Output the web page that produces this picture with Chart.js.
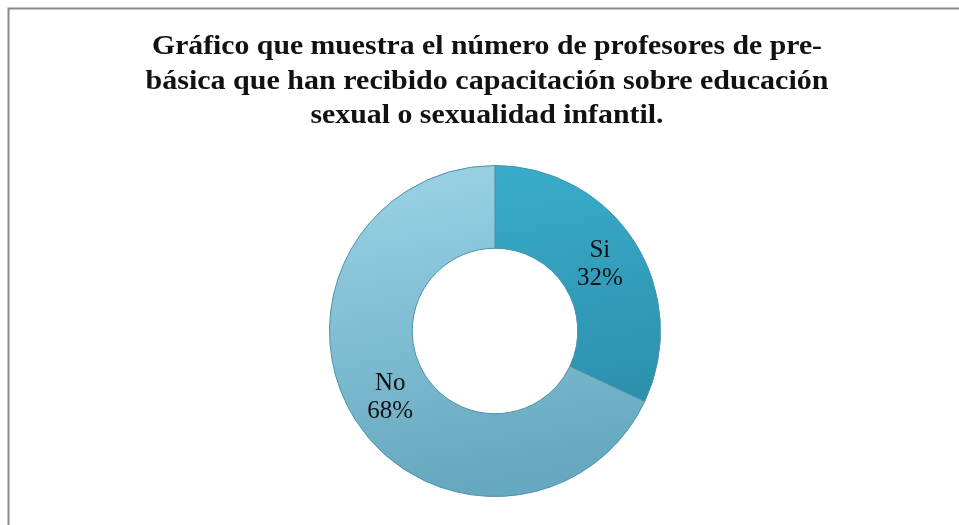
<!DOCTYPE html>
<html>
<head>
<meta charset="utf-8">
<script src="https://cdn.jsdelivr.net/npm/chart.js@4"></script>
<style>
html,body{margin:0;padding:0;background:#fff;}
#wrap{width:959px;height:525px;position:relative;}
</style>
</head>
<body>
<div id="wrap"><canvas id="c" width="959" height="525"></canvas></div>
<script>
const titleLines = [
  "Gráfico que muestra el número de profesores de pre-",
  "básica que han recibido capacitación sobre educación",
  "sexual o sexualidad infantil."
];
const categories = ["Si", "No"];
const values = [32, 68];
const percentLabels = ["32%", "68%"];

const gradStops = [
  ["#3AB0CF", "#2A8AA6"],
  ["#9CD4E7", "#66A8BF"]
];

const frame = {
  id: "frame",
  beforeDraw(chart) {
    const ctx = chart.ctx;
    ctx.save();
    ctx.strokeStyle = "#8a8a8a";
    ctx.lineWidth = 2;
    ctx.beginPath();
    ctx.moveTo(8.5, 525);
    ctx.lineTo(8.5, 8.5);
    ctx.lineTo(959, 8.5);
    ctx.stroke();
    ctx.restore();
  }
};

const titlePlugin = {
  id: "titleLines",
  afterDraw(chart) {
    const ctx = chart.ctx;
    const widths = [670, 683, 353];
    const baselines = [54, 89, 123];
    ctx.save();
    ctx.fillStyle = "#111";
    ctx.font = "bold 27px 'Liberation Serif', 'Times New Roman', serif";
    ctx.textBaseline = "alphabetic";
    titleLines.forEach((t, i) => {
      const w = ctx.measureText(t).width;
      const sx = widths[i] / w;
      ctx.save();
      ctx.translate(487, baselines[i]);
      ctx.scale(sx, 1);
      ctx.textAlign = "center";
      ctx.fillText(t, 0, 0);
      ctx.restore();
    });
    ctx.restore();
  }
};

const sliceLabels = {
  id: "sliceLabels",
  afterDatasetsDraw(chart) {
    const ctx = chart.ctx;
    const meta = chart.getDatasetMeta(0);
    ctx.save();
    ctx.fillStyle = "#111";
    ctx.font = "25px 'Liberation Serif', 'Times New Roman', serif";
    ctx.textAlign = "center";
    ctx.textBaseline = "middle";
    meta.data.forEach((arc, i) => {
      const p = arc.tooltipPosition();
      ctx.fillText(categories[i], p.x, p.y - 14);
      ctx.fillText(percentLabels[i], p.x, p.y + 14);
    });
    ctx.restore();
  }
};

new Chart(document.getElementById("c"), {
  type: "doughnut",
  data: {
    labels: categories,
    datasets: [{
      data: values,
      backgroundColor(ctx) {
        const chart = ctx.chart;
        const a = chart.chartArea;
        if (!a) return gradStops[ctx.dataIndex][0];
        const g = chart.ctx.createLinearGradient(a.left, a.top, a.left + 60, a.bottom);
        g.addColorStop(0, gradStops[ctx.dataIndex][0]);
        g.addColorStop(1, gradStops[ctx.dataIndex][1]);
        return g;
      },
      borderColor: "#4a92a8",
      borderWidth: 1
    }]
  },
  options: {
    responsive: false,
    animation: false,
    cutout: "50%",
    layout: { padding: { left: 329, right: 298, top: 165, bottom: 28 } },
    plugins: {
      legend: { display: false },
      title: { display: false },
      tooltip: { enabled: false }
    }
  },
  plugins: [frame, titlePlugin, sliceLabels]
});
</script>
</body>
</html>
